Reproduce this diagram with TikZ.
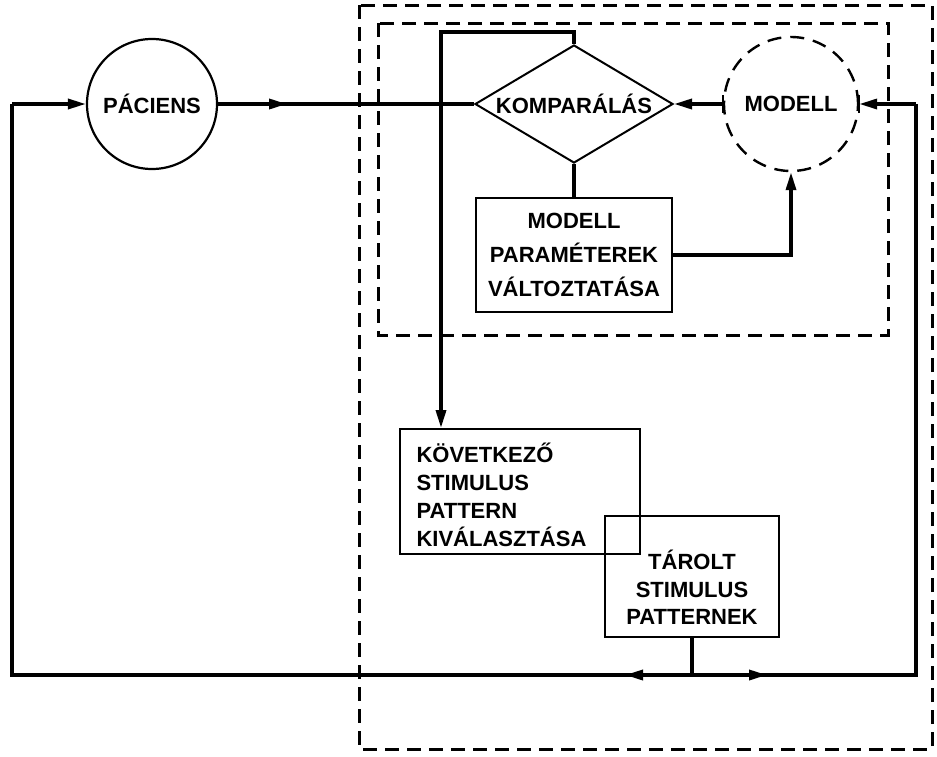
\documentclass[tikz,border=0pt]{standalone}
\usepackage{fontspec}
\setmainfont{Liberation Sans}
\newfontfamily\lblfont{Liberation Sans}
\usetikzlibrary{shapes.geometric,arrows.meta}
\tikzset{
  conn/.style={line width=3.4pt},
  arr/.style={conn,-{Triangle[length=18pt,width=10pt]}},
  boxx/.style={draw,line width=2pt,rectangle,inner sep=0pt},
  dbox/.style={line width=3pt,dash pattern=on 14pt off 8pt},
  lbl/.style={font=\lblfont\bfseries\fontsize{22}{28}\selectfont},
}
\begin{document}
\begin{tikzpicture}[x=1pt,y=1pt]
\useasboundingbox (0,0) rectangle (937,-756);
% dashed frames
\draw[dbox] (359,-5) rectangle (932,-749);
\draw[dbox] (378,-23) rectangle (888,-335);
% nodes
\node[draw,circle,line width=2.2pt,minimum size=130pt,inner sep=0pt] (pac) at (152,-104) {};
\node[lbl] (pact) at (pac) {PÁCIENS};
\node[draw,diamond,line width=2pt,minimum width=198pt,minimum height=118pt,inner sep=0pt] (komp) at (574,-104) {};
\node[lbl] (kompt) at (komp) {KOMPARÁLÁS};
\node[draw,circle,line width=2.4pt,dash pattern=on 14pt off 9pt,minimum size=134pt,inner sep=0pt] (modell) at (791,-104) {};
\node[lbl] (modellt) at (modell) {MODELL};
\draw[line width=2.4pt] ([yshift=-9pt]modell.west) -- ([yshift=9pt]modell.west);
\draw[line width=2.4pt] ([yshift=-9pt]modell.east) -- ([yshift=9pt]modell.east);
\node[boxx,minimum width=196pt,minimum height=114pt] (mpv) at (574,-255) {};
\node[lbl,align=center,font=\lblfont\bfseries\fontsize{22}{34}\selectfont] (mpvt) at (mpv) {MODELL\\PARAMÉTEREK\\VÁLTOZTATÁSA};
\node[boxx,minimum width=240pt,minimum height=125pt] (kov) at (520,-491.5) {};
\node[lbl,align=left,anchor=west] (kovt) at ([xshift=14pt,yshift=-3pt]kov.west) {KÖVETKEZŐ\\STIMULUS\\PATTERN\\KIVÁLASZTÁSA};
\node[boxx,minimum width=174pt,minimum height=121pt] (tar) at (692,-576.5) {};
\node[lbl,align=center,font=\lblfont\bfseries\fontsize{22}{27.5}\selectfont] (tart) at ([yshift=-11pt]tar.center) {TÁROLT\\STIMULUS\\PATTERNEK};
% coordinates
\coordinate (j) at (692,-675);
\coordinate (la) at (625,-675);
\coordinate (ra) at (767,-675);
\coordinate (lb) at (12,-675);
\coordinate (lt) at (12,-104);
\coordinate (rb) at (916,-675);
\coordinate (rt) at (916,-104);
\coordinate (ma) at (287,-104);
\coordinate (tl) at (441,-32);
% connectors
\draw[conn] (pac.east) -- (komp.west);
\draw[arr] (pac.east) -- (ma);
\draw[arr] (modell.west) -- (komp.east);
\draw[conn] (komp.south) -- (mpv.north);
\draw[arr] (mpv.east) -| (modell.south);
\draw[arr] (komp.north) |- (tl) -- (tl |- kov.north);
\draw[conn] (tar.south) -- (j);
\draw[conn,line join=miter] (j) -- (lb) -- (lt);
\draw[arr] (j) -- (la);
\draw[arr,line join=miter] (lt) -- (pac.west);
\draw[conn,line join=miter] (j) -- (rb) -- (rt);
\draw[arr] (j) -- (ra);
\draw[arr] (rt) -- (modell.east);
\end{tikzpicture}
\end{document}
